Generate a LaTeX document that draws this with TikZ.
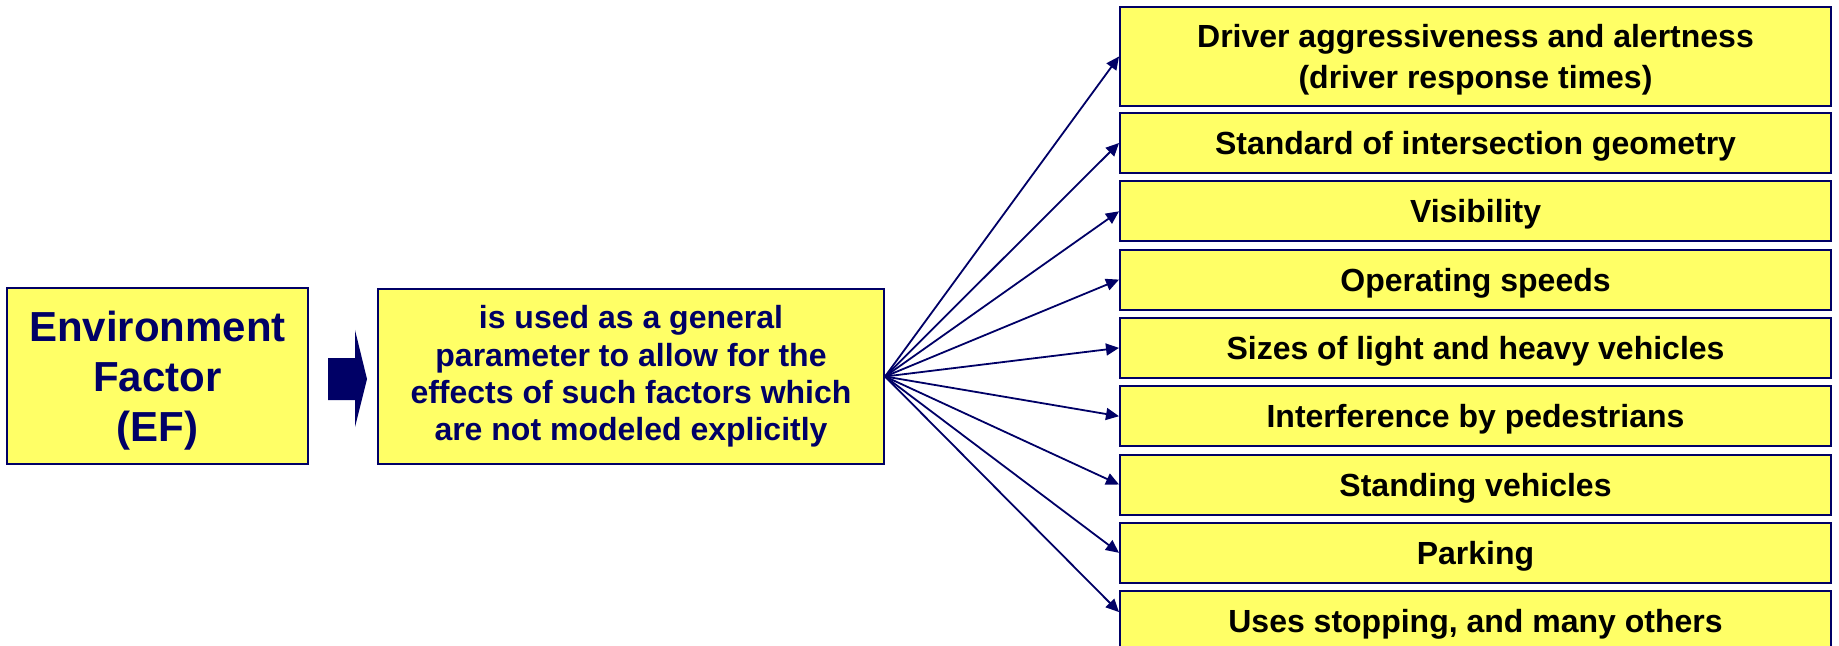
\documentclass[tikz,border=0pt]{standalone}
\usepackage{fontspec}
\setmainfont{Liberation Sans}
\usetikzlibrary{arrows.meta, positioning}
\definecolor{navy}{HTML}{000066}
\definecolor{boxyellow}{HTML}{FFFF66}

\begin{document}
\begin{tikzpicture}[x=0.5pt, y=-0.5pt,
    box/.style={draw=navy, line width=1pt, fill=boxyellow, align=center, inner sep=0pt},
    factor/.style={box, minimum width=355.5pt, minimum height=30pt, text=black,
      font=\fontsize{16}{20.5}\selectfont\bfseries},
    fan/.style={navy, line width=0.9pt, -{Triangle[length=6.5pt, width=6pt]}}]
  \useasboundingbox (0,0) rectangle (1839,646);
  % left part
  \node[box, minimum width=150.5pt, minimum height=88pt, text=navy, text depth=0pt,
    font=\fontsize{21}{25}\selectfont\bfseries] (ef) at (157.5,376) {Environment\\Factor\\(EF)};
  \node[box, minimum width=253pt, minimum height=87.5pt, text=navy,
    font=\fontsize{16}{18.6}\selectfont\bfseries] (use) at (631,376.5)
    {is used as a general\\parameter to allow for the\\effects of such factors which\\are not modeled explicitly};
  \fill[navy] (328,358) -- (355,358) -- (355,330) -- (367,379) -- (355,427) -- (355,400) -- (328,400) -- cycle;
  % factors
  \node[factor, minimum height=49.5pt, text depth=0pt] (f1) at (1475.5,56.5)
    {Driver aggressiveness and alertness\\(driver response times)};
  \foreach \lbl [count=\i from 2] in {Standard of intersection geometry, Visibility, Operating speeds,
      Sizes of light and heavy vehicles, Interference by pedestrians, Standing vehicles, Parking,
      {Uses stopping, and many others}}
    \node[factor, text height=11.5pt, text depth=0pt] (f\i) at ({1475.5},{143+68.3*(\i-2)}) {\lbl};
  \foreach \i in {1,...,8}
    \draw[fan] (use.east) -- (f\i.west);
  \draw[fan] (use.east) -- ([yshift=4.5pt]f9.west);
\end{tikzpicture}
\end{document}
